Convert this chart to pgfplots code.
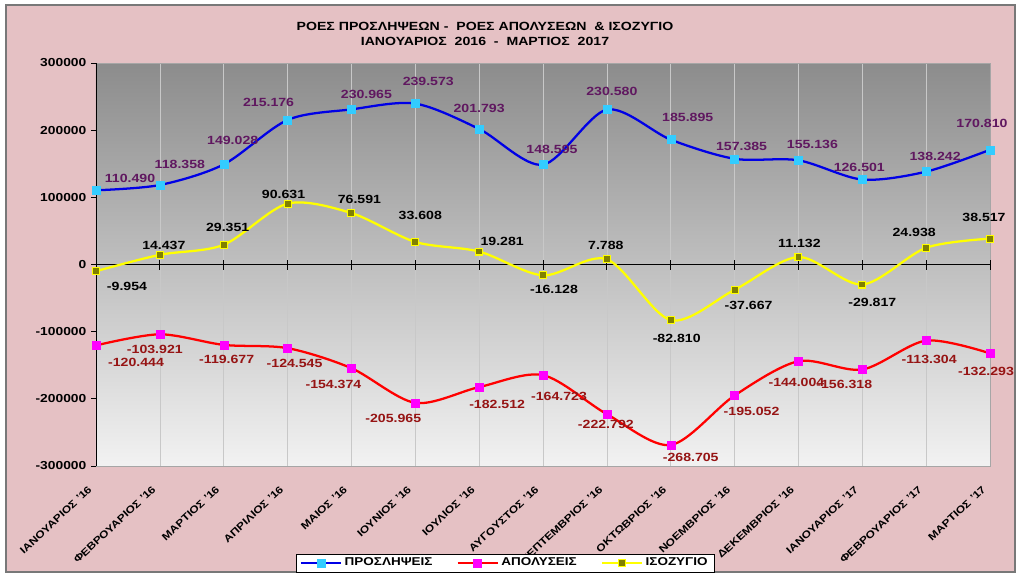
\documentclass[border=0pt]{standalone}
\usepackage{pgfplots}
\pgfplotsset{compat=1.18}
\usepackage{pgfplotstable}
\usepackage{fontspec}
\setmainfont{Liberation Sans}[FakeStretch=1.19]

\definecolor{pinkbg}{RGB}{229,193,196}
\definecolor{framegray}{RGB}{120,120,120}
\definecolor{plottop}{RGB}{140,140,140}
\definecolor{plotbot}{RGB}{242,242,242}
\definecolor{gridc}{RGB}{200,200,200}
\definecolor{hblue}{RGB}{0,0,230}
\definecolor{hcyan}{RGB}{51,204,255}
\definecolor{hred}{RGB}{255,0,0}
\definecolor{hmag}{RGB}{255,0,255}
\definecolor{hyel}{RGB}{255,255,0}
\definecolor{holive}{RGB}{128,128,0}
\definecolor{lblpurple}{RGB}{96,24,96}
\definecolor{lblred}{RGB}{150,20,20}

\pgfplotstableread{
x y dx dy
0 110490 34 -12
1 118358 20 -21
2 149028 9 -24
3 215176 -19 -18
4 230965 15 -15
5 239573 13 -22
6 201793 0 -21
7 148595 9 -15
8 230580 5 -18
9 185895 17 -22
10 157385 7 -12
11 155136 14 -16
12 126501 -3 -12
13 138242 9 -15
14 170810 -8 -26
}\hires

\pgfplotstableread{
x y dx dy
0 -120444 40 17
1 -103921 -5 15
2 -119677 3 15
3 -124545 7 15
4 -154374 -18 16
5 -205965 -22 16
6 -182512 18 17
7 -164723 16 21
8 -222792 -1 10
9 -268705 20 12
10 -195052 17 16
11 -144004 -2 21
12 -156318 -18 15
13 -113304 3 19
14 -132293 -4 18
}\fires

\pgfplotstableread{
x y dx dy
0 -9954 31 15
1 14437 4 -9
2 29351 4 -17
3 90631 -4 -9
4 76591 8 -14
5 33608 5 -27
6 19281 23 -10
7 -16128 11 14
8 7788 -1 -14
9 -82810 6 18
10 -37667 14 16
11 11132 1 -14
12 -29817 10 18
13 24938 -12 -15
14 38517 -6 -21
}\balance

\pgfplotsset{
  lbl/.style={
    nodes near coords={\pgfmathprintnumber[fixed,precision=0,1000 sep={.},assume math mode=true]{\pgfplotspointmeta}},
    visualization depends on={\thisrow{dx}\as\ldx},
    visualization depends on={\thisrow{dy}\as\ldy},
    nodes near coords style={anchor=center, xshift={\ldx*0.75pt}, yshift={-\ldy*0.75pt}, text=#1, font=\bfseries\fontsize{8.9}{10}\selectfont},
  }
}

\begin{document}
\begin{tikzpicture}
% page background and frame
\fill[white] (-72pt,-84pt) rectangle (696pt,349.5pt);
\filldraw[fill=pinkbg, draw=framegray, line width=0.8pt] (-67.5pt,-79.5pt) rectangle (689.25pt,345.75pt);

\begin{axis}[
  at={(0,0)}, anchor=south west,
  scale only axis, width=670.5pt, height=302.25pt,
  xmin=0, xmax=14, ymin=-300000, ymax=300000,
  axis background/.style={shade, top color=plottop, bottom color=plotbot},
  axis line style={draw=gray!70},
  xtick={0,...,14},
  xticklabels={ΙΑΝΟΥΑΡΙΟΣ '16, ΦΕΒΡΟΥΑΡΙΟΣ '16, ΜΑΡΤΙΟΣ '16, ΑΠΡΙΛΙΟΣ '16, ΜΑΙΟΣ '16, ΙΟΥΝΙΟΣ '16, ΙΟΥΛΙΟΣ '16, ΑΥΓΟΥΣΤΟΣ '16, ΣΕΠΤΕΜΒΡΙΟΣ '16, ΟΚΤΩΒΡΙΟΣ '16, ΝΟΕΜΒΡΙΟΣ '16, ΔΕΚΕΜΒΡΙΟΣ '16, ΙΑΝΟΥΑΡΙΟΣ '17, ΦΕΒΡΟΥΑΡΙΟΣ '17, ΜΑΡΤΙΟΣ '17},
  xticklabel style={rotate=43, anchor=east, font=\bfseries\fontsize{7.6}{9}\selectfont, xshift=-11pt, yshift=-9pt},
  xtick style={draw=none},
  xmajorgrids, major grid style={gridc, line width=0.5pt},
  ytick={-300000,-200000,-100000,0,100000,200000,300000},
  yticklabels={-300000,-200000,-100000,0,100000,200000,300000},
  yticklabel style={font=\bfseries\fontsize{8.7}{10}\selectfont},
  ytick pos=left, ytick align=outside,
  ytick style={black, line width=0.6pt},
  major tick length=3.75pt,
  scaled y ticks=false,
  clip=false,
  legend style={at={(0.4575,-0.2407)}, anchor=center, legend columns=3, draw=black, fill=white,
    font=\bfseries\fontsize{8.5}{9}\selectfont, inner ysep=1pt, inner xsep=3pt,
    /tikz/every even column/.append style={column sep=16pt}},
  legend image code/.code={\draw[mark repeat=2,mark phase=2] plot coordinates {(0pt,0pt) (15pt,0pt) (30pt,0pt)};},
]
% zero line and left axis line
\draw[black, line width=0.6pt] (axis cs:0,0) -- (axis cs:14,0);
\draw[black, line width=0.6pt] (axis cs:0,-300000) -- (axis cs:0,300000);
\pgfplotsinvokeforeach{1,...,14}{\draw[black, line width=0.6pt] ([yshift=-3.75pt]axis cs:#1,0) -- ([yshift=3.75pt]axis cs:#1,0);}

\addplot[smooth, hblue, line width=1.7pt, mark=square*, mark size=3pt,
  mark options={fill=hcyan, draw=hcyan, line width=0.3pt}, lbl=lblpurple]
  table[x=x, y=y, meta=y] {\hires};
\addlegendentry{ΠΡΟΣΛΗΨΕΙΣ}

\addplot[smooth, hred, line width=1.7pt, mark=square*, mark size=3pt,
  mark options={fill=hmag, draw=hmag, line width=0.3pt}, lbl=lblred]
  table[x=x, y=y, meta=y] {\fires};
\addlegendentry{ΑΠΟΛΥΣΕΙΣ}

\addplot[smooth, hyel, line width=1.7pt, mark=square*, mark size=2.6pt,
  mark options={fill=holive, draw=hyel, line width=0.8pt}, lbl=black]
  table[x=x, y=y, meta=y] {\balance};
\addlegendentry{ΙΣΟΖΥΓΙΟ}
\end{axis}

\node[font=\bfseries\fontsize{8.9}{10}\selectfont] at (291.75pt,330pt) {ΡΟΕΣ ΠΡΟΣΛΗΨΕΩΝ -\ \ ΡΟΕΣ ΑΠΟΛΥΣΕΩΝ\ \ \& ΙΣΟΖΥΓΙΟ};
\node[font=\bfseries\fontsize{8.9}{10}\selectfont] at (291.75pt,318.75pt) {ΙΑΝΟΥΑΡΙΟΣ\ \ 2016\ \ -\ \ ΜΑΡΤΙΟΣ\ \ 2017};

\pgfresetboundingbox
\useasboundingbox (-72pt,-84pt) rectangle (696pt,349.5pt);
\end{tikzpicture}
\end{document}
